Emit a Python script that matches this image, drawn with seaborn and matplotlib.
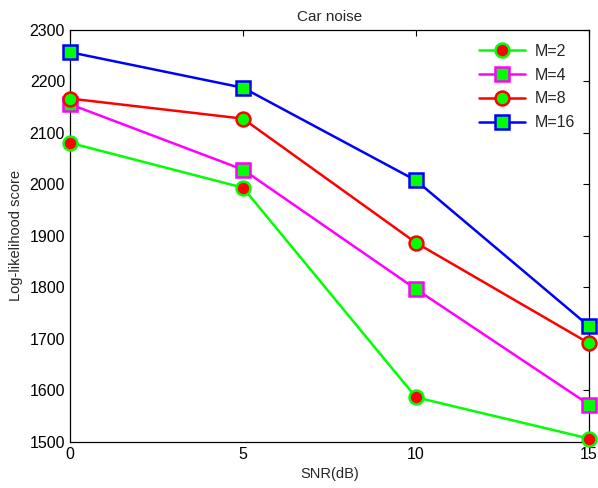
import matplotlib
matplotlib.use("Agg")
import matplotlib.pyplot as plt
import seaborn as sns
import pandas as pd

snr = [0, 5, 10, 15]
m2 = [2080, 1993, 1586, 1506]
m4 = [2155, 2028, 1796, 1572]
m8 = [2166, 2127, 1886, 1691]
m16 = [2256, 2187, 2007, 1724]
labels = ["M=2", "M=4", "M=8", "M=16"]

sns.set_style("white")
plt.rcParams['font.family'] = ['Liberation Sans', 'DejaVu Sans']

fig = plt.figure(figsize=(5.98, 4.88), dpi=100)
ax = fig.add_axes([0.117, 0.095, 0.868, 0.8445])

styles = [
    dict(color="#00ff00", marker="o", mfc="#ff0000", mec="#00ff00"),
    dict(color="#ff00ff", marker="s", mfc="#00ff00", mec="#ff00ff"),
    dict(color="#ff0000", marker="o", mfc="#00ff00", mec="#ff0000"),
    dict(color="#0000ff", marker="s", mfc="#00ff00", mec="#0000ff"),
]
for vals, lab, st in zip([m2, m4, m8, m16], labels, styles):
    df = pd.DataFrame({"snr": snr, "score": vals})
    sns.lineplot(data=df, x="snr", y="score", ax=ax, label=lab,
                 color=st["color"], linewidth=1.8,
                 marker=st["marker"], markersize=10 if st["marker"] == "o" else 9.5,
                 markerfacecolor=st["mfc"], markeredgecolor=st["mec"],
                 markeredgewidth=1.8, clip_on=False, zorder=3)

ax.set_xlim(0, 15)
ax.set_ylim(1500, 2300)
ax.set_xticks([0, 5, 10, 15])
ax.set_yticks(range(1500, 2301, 100))
ax.tick_params(direction="in", top=True, right=True, length=4, width=0.8,
               labelsize=11.5, colors="black")
for s in ax.spines.values():
    s.set_visible(True)
    s.set_color("black")
    s.set_linewidth(0.9)
    s.set_zorder(2)
ax.set_title("Car noise", fontsize=11, pad=6)
ax.set_xlabel("SNR(dB)", fontsize=10.5, labelpad=4)
ax.set_ylabel("Log-likelihood score", fontsize=10.5, labelpad=5)

leg = ax.legend(loc="upper right", frameon=False, fontsize=11.5,
                handlelength=2.9, handletextpad=0.55, labelspacing=0.55,
                borderaxespad=0.5)

fig.savefig("out.png", dpi=100)
